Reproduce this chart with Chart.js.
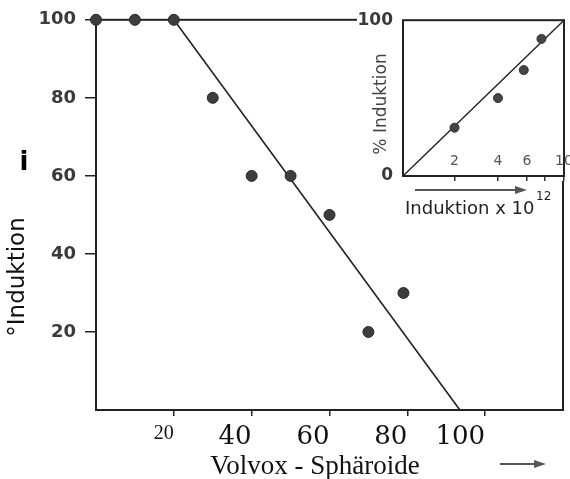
<!DOCTYPE html>
<html>
<head>
<meta charset="utf-8">
<script src="https://cdn.jsdelivr.net/npm/chart.js@4"></script>
<style>
  html, body { margin: 0; padding: 0; background: #fff; }
  #wrap { position: relative; width: 570px; height: 479px; }
  #main { position: absolute; left: 0; top: 0; }
  #inset { position: absolute; left: 340px; top: 0; }
</style>
</head>
<body>
<div id="wrap">
  <canvas id="main" width="570" height="479"></canvas>
  <canvas id="inset" width="230" height="225"></canvas>
</div>
<script>
// Hauptdiagramm: % Induktion gegen Zahl der Volvox-Sphäroide
const sphaeroide = [0, 10, 20, 30, 40, 50, 60, 70, 79];
const induktion = [100, 100, 100, 80, 60, 60, 50, 20, 30];
const fitX = [20, 93.5];
const fitY = [100, 0];
const xTicks = [20, 40, 60, 80, 100];
const yTicks = [20, 40, 60, 80, 100];

// Einschub: % Induktion gegen Induktion x 10^12 (Achse im Bild verzerrt)
const insetX = [3.2, 5.9, 7.5, 8.6];
const insetY = [31, 50, 68, 88];
const insetFitX = [0, 10];
const insetFitY = [0, 100];
const insetTicks = [3.2, 5.9, 7.7, 8.8, 10];
const insetTickLabels = ["2", "4", "6", "", "10"];
const insetYTicks = [0, 100];

const ink = "#222";

// Rahmen um die Zeichenfläche
const frame = {
  id: "frame",
  beforeDatasetsDraw(chart) {
    const a = chart.chartArea;
    const ctx = chart.ctx;
    ctx.save();
    ctx.strokeStyle = ink;
    ctx.lineWidth = 2;
    ctx.strokeRect(a.left, a.top, a.right - a.left, a.bottom - a.top);
    ctx.restore();
  },
};

function drawArrow(ctx, a) {
  ctx.save();
  ctx.strokeStyle = "#555";
  ctx.fillStyle = "#555";
  ctx.lineWidth = 2;
  ctx.beginPath();
  ctx.moveTo(a.x1, a.y);
  ctx.lineTo(a.x2 - 8, a.y);
  ctx.stroke();
  ctx.beginPath();
  ctx.moveTo(a.x2, a.y);
  ctx.lineTo(a.x2 - 12, a.y - 4);
  ctx.lineTo(a.x2 - 12, a.y + 4);
  ctx.closePath();
  ctx.fill();
  ctx.restore();
}

// Freie Beschriftungen und Pfeile
function makeNotes(texts, arrows) {
  return {
    id: "notes",
    afterDraw(chart) {
      const ctx = chart.ctx;
      texts.forEach((t) => {
        ctx.save();
        ctx.font = t.font;
        ctx.fillStyle = t.color || ink;
        ctx.textAlign = t.align || "center";
        ctx.textBaseline = t.baseline || "middle";
        ctx.translate(t.x, t.y);
        if (t.rotate) ctx.rotate(t.rotate);
        ctx.fillText(t.text, 0, 0);
        ctx.restore();
      });
      arrows.forEach((a) => drawArrow(ctx, a));
    },
  };
}

new Chart(document.getElementById("main"), {
  type: "scatter",
  data: {
    datasets: [
      {
        data: sphaeroide.map((x, i) => ({ x, y: induktion[i] })),
        pointRadius: 5.5,
        backgroundColor: "#3d3d3d",
        borderColor: "#2a2a2a",
        borderWidth: 1,
        clip: false,
      },
      {
        data: fitX.map((x, i) => ({ x, y: fitY[i] })),
        showLine: true,
        borderColor: ink,
        borderWidth: 1.6,
        pointRadius: 0,
        clip: false,
      },
    ],
  },
  options: {
    responsive: false,
    animation: false,
    layout: { padding: { top: 17, right: 7, left: 0, bottom: 0 } },
    plugins: { legend: { display: false }, tooltip: { enabled: false } },
    scales: {
      x: {
        type: "linear",
        min: 0,
        max: 120,
        afterBuildTicks: (s) => {
          s.ticks = xTicks.map((v) => ({ value: v }));
        },
        afterFit: (s) => {
          s.height = 69;
          s.paddingLeft = 0;
          s.paddingRight = 0;
        },
        border: { display: false },
        grid: { drawOnChartArea: false, tickLength: 6, color: ink, lineWidth: 1.5 },
        ticks: {
          autoSkip: false,
          maxRotation: 0,
          align: "end",
          padding: 6,
          color: "#111",
          font: (c) =>
            c.tick && c.tick.value === 20
              ? { family: '"Liberation Serif"', size: 20 }
              : { family: '"DejaVu Serif"', size: 26 },
        },
      },
      y: {
        min: 0,
        max: 100,
        afterBuildTicks: (s) => {
          s.ticks = yTicks.map((v) => ({ value: v }));
        },
        afterFit: (s) => {
          s.width = 96;
        },
        border: { display: false },
        grid: { drawOnChartArea: false, tickLength: 11, color: ink, lineWidth: 1.5 },
        ticks: {
          padding: 9,
          color: "#3a3a3a",
          font: { family: '"DejaVu Sans"', size: 18, weight: "bold" },
        },
      },
    },
  },
  plugins: [
    frame,
    makeNotes(
      [
        { text: "°Induktion", x: 18, y: 277, rotate: -Math.PI / 2, font: '23px "DejaVu Sans"', color: "#111" },
        { text: "i", x: 24, y: 163, font: 'bold 26px "DejaVu Sans"', color: "#000" },
        { text: "Volvox - Sphäroide", x: 315, y: 467, font: '27px "Liberation Serif"', color: "#111" },
      ],
      [{ x1: 500, x2: 546, y: 464 }]
    ),
  ],
});

// weißer Grund hinter dem Einschub
const insetBg = {
  id: "insetBg",
  beforeDraw(chart) {
    const ctx = chart.ctx;
    ctx.save();
    ctx.fillStyle = "#fff";
    ctx.fillRect(17, 0, 213, 181);
    ctx.fillRect(55, 181, 163, 44);
    ctx.restore();
  },
};

new Chart(document.getElementById("inset"), {
  type: "scatter",
  data: {
    datasets: [
      {
        data: insetX.map((x, i) => ({ x, y: insetY[i] })),
        pointRadius: 4.5,
        backgroundColor: "#454545",
        borderColor: "#333",
        borderWidth: 1,
        clip: false,
      },
      {
        data: insetFitX.map((x, i) => ({ x, y: insetFitY[i] })),
        showLine: true,
        borderColor: ink,
        borderWidth: 1.4,
        pointRadius: 0,
        clip: false,
      },
    ],
  },
  options: {
    responsive: false,
    animation: false,
    layout: { padding: { top: 20, right: 6, left: 0, bottom: 0 } },
    plugins: { legend: { display: false }, tooltip: { enabled: false } },
    scales: {
      x: {
        type: "linear",
        min: 0,
        max: 10,
        afterBuildTicks: (s) => {
          s.ticks = insetTicks.map((v) => ({ value: v }));
        },
        afterFit: (s) => {
          s.height = 49;
          s.paddingLeft = 0;
          s.paddingRight = 0;
        },
        border: { display: false },
        grid: { drawOnChartArea: false, tickLength: 5, color: "#333", lineWidth: 1.5 },
        ticks: {
          autoSkip: false,
          maxRotation: 0,
          mirror: true,
          padding: 6,
          color: "#555",
          font: { family: '"DejaVu Sans"', size: 14 },
          callback: (v, i) => insetTickLabels[i],
        },
      },
      y: {
        min: 0,
        max: 100,
        afterBuildTicks: (s) => {
          s.ticks = insetYTicks.map((v) => ({ value: v }));
        },
        afterFit: (s) => {
          s.width = 63;
        },
        border: { display: false },
        grid: { display: false, drawTicks: false },
        ticks: {
          padding: 10,
          color: "#3a3a3a",
          font: { family: '"DejaVu Sans"', size: 17, weight: "bold" },
        },
      },
    },
  },
  plugins: [
    insetBg,
    frame,
    makeNotes(
      [
        { text: "% Induktion", x: 42, y: 104, rotate: -Math.PI / 2, font: '17px "DejaVu Sans"', color: "#444" },
        { text: "Induktion x 10", x: 65, y: 214, align: "left", baseline: "alphabetic", font: '18px "DejaVu Sans"', color: "#222" },
        { text: "12", x: 196, y: 200, align: "left", baseline: "alphabetic", font: '12px "DejaVu Sans"', color: "#222" },
      ],
      [{ x1: 75, x2: 187, y: 190 }]
    ),
  ],
});
</script>
</body>
</html>
